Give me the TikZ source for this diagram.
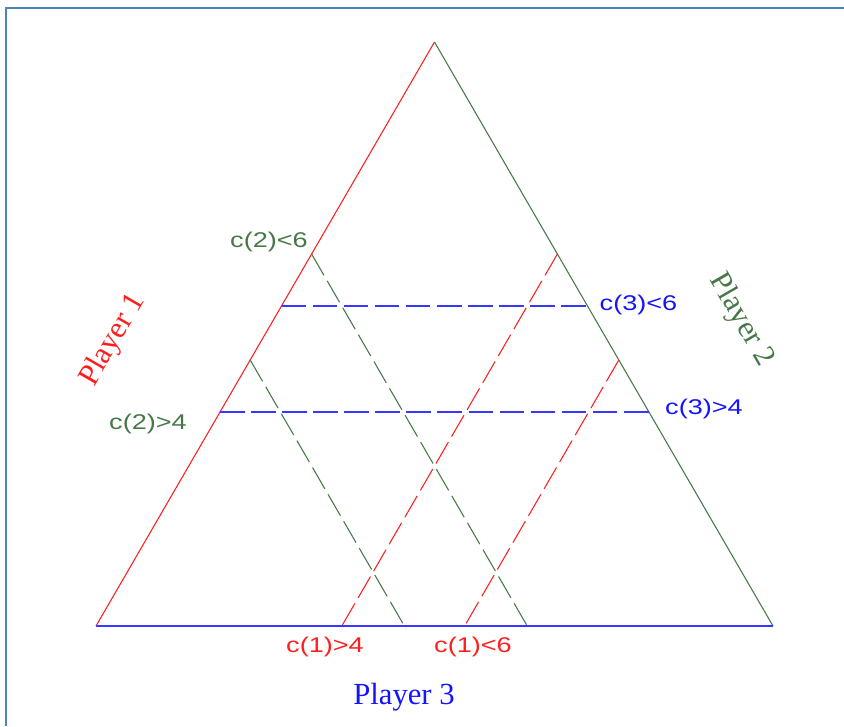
\documentclass[tikz,border=0pt]{standalone}
\usepackage{fontspec}
\newfontfamily\cadfont[FakeStretch=1.27]{Liberation Sans}
\newfontfamily\plfont{Liberation Serif}
\usetikzlibrary{calc}
\definecolor{pred}{RGB}{255,30,30}
\definecolor{pgreen}{RGB}{70,120,70}
\definecolor{pblue}{RGB}{55,55,255}
\definecolor{tblue}{RGB}{20,20,255}
\definecolor{frame}{RGB}{79,129,189}
\tikzset{
  edge/.style={line width=0.8pt},
  dline/.style={line width=0.8pt, dash pattern=on 18.5pt off 4.8pt},
  clabel/.style={font=\cadfont\fontsize{16}{17}\selectfont, inner sep=0pt},
  plabel/.style={font=\plfont\fontsize{23}{24}\selectfont, inner sep=0pt}
}
\begin{document}
\begin{tikzpicture}[x=0.75pt,y=-0.75pt]
\useasboundingbox (0,0) rectangle (844,726);
% frame
\draw[frame, line width=2pt] (6,726) -- (6,8) -- (844,8);
% vertices
\coordinate (A) at (434.5,42);
\coordinate (B) at (96,626);
\coordinate (C) at (773,626);
% dashed line end points
\coordinate (G1s) at (311.6,254);
\coordinate (G1e) at (529.0,629);
\coordinate (G2s) at (250.2,360);
\coordinate (G2e) at (406.1,629);
\coordinate (R1s) at (557.4,254);
\coordinate (R1e) at (341.8,626);
\coordinate (R2s) at (618.8,360);
\coordinate (R2e) at (464.6,626);
\coordinate (B1s) at (281.5,306);
\coordinate (B1e) at (587.5,306);
\coordinate (B2s) at (220.0,412);
\coordinate (B2e) at (649.0,412);
% edges
\draw[edge, pred] (B) -- (A);
\draw[edge, pgreen] (A) -- (C);
% dashed lines
\draw[dline, pgreen] (G1s) -- (G1e);
\draw[dline, pgreen] (G2s) -- (G2e);
\draw[dline, pred] (R1s) -- (R1e);
\draw[dline, pred] (R2s) -- (R2e);
\draw[dline, pblue] (B1s) -- (B1e);
\draw[dline, pblue] (B2s) -- (B2e);
\draw[pblue, line width=1.5pt] (B) -- (C);
% labels
\node[clabel, pgreen] (l2a) at (269,242) {c(2)<6};
\node[clabel, pgreen] (l2b) at (148,424) {c(2)>4};
\node[clabel, tblue] (l3a) at (638.5,305) {c(3)<6};
\node[clabel, tblue] (l3b) at (704,409) {c(3)>4};
\node[clabel, pred] (l1a) at (325,647) {c(1)>4};
\node[clabel, pred] (l1b) at (473,647) {c(1)<6};
\node[plabel, pred, rotate=60] (p1) at (113,340) {Player 1};
\node[plabel, pgreen, rotate=-60] (p2) at (741,320) {Player 2};
\node[plabel, tblue, anchor=base] (p3) at (404,704) {Player 3};
\end{tikzpicture}
\end{document}
